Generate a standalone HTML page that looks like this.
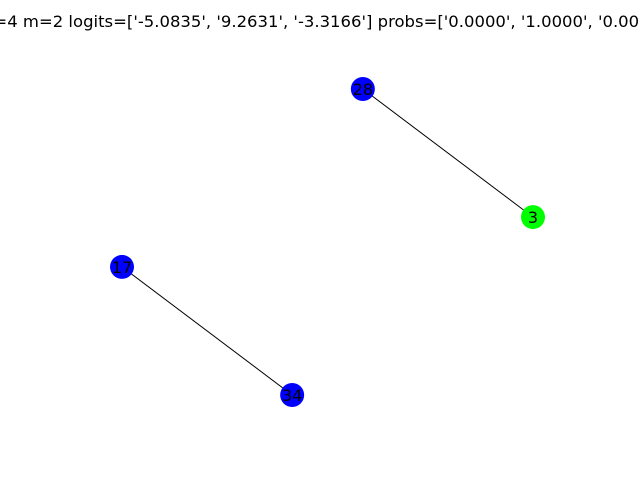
<!DOCTYPE html>
<html><head><meta charset="utf-8"><style>html,body{margin:0;padding:0;background:#fff;}svg{display:block;}</style></head>
<body>
<svg id="chart" width="640" height="480" xmlns="http://www.w3.org/2000/svg">
<rect width="640" height="480" fill="#fff"/>
<text x="327" y="27" text-anchor="middle" font-family="DejaVu Sans, sans-serif" font-size="16" textLength="688" lengthAdjust="spacingAndGlyphs">n=4 m=2 logits=['-5.0835', '9.2631', '-3.3166'] probs=['0.0000', '1.0000', '0.0000']</text>
<g id="edges"></g><g id="nodes"></g>
</svg>
<script>
const nodeIds = ["28", "3", "17", "34"];
const nodeX = [0.586, 1.0, 0.0, 0.414];
const nodeY = [1.0, 0.64, 0.5, 0.14];
const nodeColors = ["#0000ff", "#00ff00", "#0000ff", "#0000ff"];
const edgeList = [["28", "3"], ["17", "34"]];
const sx = v => 122 + v * (533 - 122);
const sy = v => 395 - (v - 0.14) / (1.0 - 0.14) * (395 - 89);
const NS = "http://www.w3.org/2000/svg";
const eg = document.getElementById("edges"), ng = document.getElementById("nodes");
const idx = id => nodeIds.indexOf(id);
edgeList.forEach(e => {
  const a = idx(e[0]), b = idx(e[1]);
  const l = document.createElementNS(NS, "line");
  l.setAttribute("x1", sx(nodeX[a])); l.setAttribute("y1", sy(nodeY[a]));
  l.setAttribute("x2", sx(nodeX[b])); l.setAttribute("y2", sy(nodeY[b]));
  l.setAttribute("stroke", "#000"); l.setAttribute("stroke-width", "1");
  
  
  eg.appendChild(l);
});
nodeIds.forEach((id, i) => {
  const c = document.createElementNS(NS, "circle");
  c.setAttribute("cx", sx(nodeX[i])); c.setAttribute("cy", sy(nodeY[i]));
  c.setAttribute("r", "12"); c.setAttribute("fill", nodeColors[i]);
  
  
  ng.appendChild(c);
  const t = document.createElementNS(NS, "text");
  t.setAttribute("x", sx(nodeX[i])); t.setAttribute("y", sy(nodeY[i]) + 6);
  t.setAttribute("text-anchor", "middle");
  t.setAttribute("font-family", "DejaVu Sans, sans-serif");
  t.setAttribute("font-size", "16");
  t.textContent = id;
  
  
  ng.appendChild(t);
});
</script>
</body></html>
